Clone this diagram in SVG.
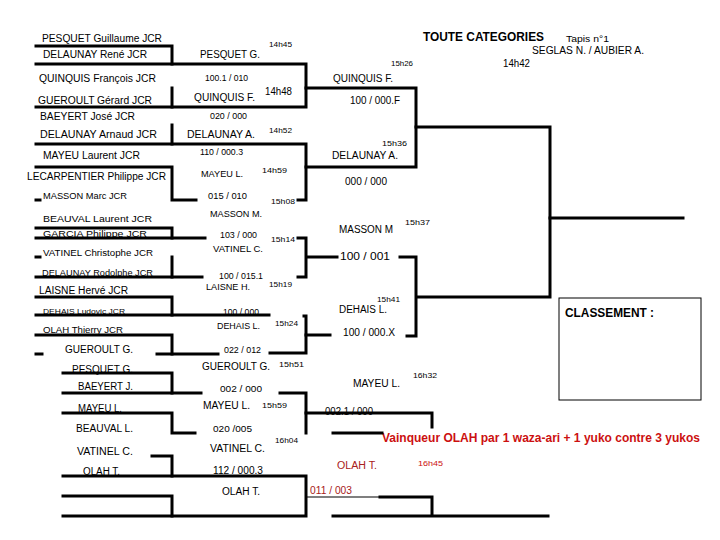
<svg xmlns="http://www.w3.org/2000/svg" width="720" height="540" viewBox="0 0 720 540">
<style>
text{font-family:"Liberation Sans",Arial,sans-serif;fill:#000;lengthAdjust:spacingAndGlyphs}
.n{font-size:10px}
.s{font-size:8.5px}
.t{font-size:8px}
.b{font-weight:bold}
.red{fill:#cc1010}
.dred{fill:#a82020}
.l{stroke:#000;stroke-width:3;fill:none;stroke-linecap:square;stroke-linejoin:miter}
.thin{stroke:#000;stroke-width:1.2;fill:none}
</style>
<rect width="720" height="540" fill="#fff"/>

<g id="header">
<text class="b" x="423" y="41" font-size="12.5" textLength="121" lengthAdjust="spacingAndGlyphs">TOUTE CATEGORIES</text>
<text x="566" y="42" font-size="9" textLength="43" lengthAdjust="spacingAndGlyphs">Tapis n°1</text>
<text x="532" y="54" font-size="10" textLength="112" lengthAdjust="spacingAndGlyphs">SEGLAS N. / AUBIER A.</text>
<text x="503" y="67" font-size="10" textLength="27" lengthAdjust="spacingAndGlyphs">14h42</text>
</g>

<g id="round1">
<g id="p-pesquet-guillaume"><text class="n" x="42" y="42" textLength="120" lengthAdjust="spacingAndGlyphs">PESQUET Guillaume JCR</text></g>
<g id="p-delaunay-rene"><text class="n" x="43" y="58" textLength="104" lengthAdjust="spacingAndGlyphs">DELAUNAY René JCR</text></g>
<g id="p-quinquis-francois"><text class="n" x="39" y="82" textLength="117" lengthAdjust="spacingAndGlyphs">QUINQUIS François JCR</text></g>
<g id="p-gueroult-gerard"><text class="n" x="38" y="104" textLength="114" lengthAdjust="spacingAndGlyphs">GUEROULT Gérard JCR</text></g>
<g id="p-baeyert-jose"><text class="n" x="40" y="120" textLength="95" lengthAdjust="spacingAndGlyphs">BAEYERT José JCR</text></g>
<g id="p-delaunay-arnaud"><text class="n" x="40" y="138" textLength="117" lengthAdjust="spacingAndGlyphs">DELAUNAY Arnaud JCR</text></g>
<g id="p-mayeu-laurent"><text class="n" x="43" y="159" textLength="97" lengthAdjust="spacingAndGlyphs">MAYEU Laurent JCR</text></g>
<g id="p-lecarpentier"><text class="n" x="27" y="180" textLength="139" lengthAdjust="spacingAndGlyphs">LECARPENTIER Philippe JCR</text></g>
<g id="p-masson-marc"><text class="s" x="43" y="199" textLength="84" lengthAdjust="spacingAndGlyphs">MASSON Marc JCR</text></g>
<g id="p-beauval-laurent"><text font-size="9.5" x="43" y="222" textLength="109" lengthAdjust="spacingAndGlyphs">BEAUVAL Laurent JCR</text></g>
<g id="p-garcia"><text font-size="9.5" x="43" y="237" textLength="104" lengthAdjust="spacingAndGlyphs">GARCIA Philippe JCR</text></g>
<g id="p-vatinel-christophe"><text class="s" x="43" y="256" textLength="110" lengthAdjust="spacingAndGlyphs">VATINEL Christophe JCR</text></g>
<g id="p-delaunay-rodolphe"><text class="s" x="42" y="276" textLength="111" lengthAdjust="spacingAndGlyphs">DELAUNAY Rodolphe JCR</text></g>
<g id="p-laisne-herve"><text class="n" x="39" y="294" textLength="89" lengthAdjust="spacingAndGlyphs">LAISNE Hervé JCR</text></g>
<g id="p-dehais-ludovic"><text class="t" x="43" y="314" textLength="82" lengthAdjust="spacingAndGlyphs">DEHAIS Ludovic JCR</text></g>
<g id="p-olah-thierry"><text class="s" x="43" y="333" textLength="80" lengthAdjust="spacingAndGlyphs">OLAH Thierry JCR</text></g>
<g id="r-gueroult"><text class="n" x="65" y="353" textLength="68" lengthAdjust="spacingAndGlyphs">GUEROULT G.</text></g>
<g id="r-pesquet"><text class="n" x="72" y="373" textLength="61" lengthAdjust="spacingAndGlyphs">PESQUET G.</text></g>
<g id="r-baeyert"><text class="n" x="78" y="390" textLength="55" lengthAdjust="spacingAndGlyphs">BAEYERT J.</text></g>
<g id="r-mayeu"><text class="n" x="78" y="412" textLength="44" lengthAdjust="spacingAndGlyphs">MAYEU L.</text></g>
<g id="r-beauval"><text class="n" x="76" y="432" textLength="57" lengthAdjust="spacingAndGlyphs">BEAUVAL L.</text></g>
<g id="r-vatinel"><text class="n" x="77" y="455" textLength="56" lengthAdjust="spacingAndGlyphs">VATINEL C.</text></g>
<g id="r-olah"><text class="n" x="83" y="475" textLength="37" lengthAdjust="spacingAndGlyphs">OLAH T.</text></g>
</g>

<g id="round2">
<g id="m1"><text class="t" x="269" y="47" textLength="23" lengthAdjust="spacingAndGlyphs">14h45</text>
<text class="n" x="200" y="58" textLength="60" lengthAdjust="spacingAndGlyphs">PESQUET G.</text>
<text class="s" x="205" y="81" textLength="43" lengthAdjust="spacingAndGlyphs">100.1 / 010</text></g>
<g id="m2"><text class="n" x="194" y="101" textLength="61" lengthAdjust="spacingAndGlyphs">QUINQUIS F.</text>
<text class="n" x="265" y="95" textLength="27" lengthAdjust="spacingAndGlyphs">14h48</text>
<text class="s" x="210" y="119" textLength="37" lengthAdjust="spacingAndGlyphs">020 / 000</text></g>
<g id="m3"><text class="n" x="187" y="138" textLength="68" lengthAdjust="spacingAndGlyphs">DELAUNAY A.</text>
<text class="t" x="269" y="133" textLength="23" lengthAdjust="spacingAndGlyphs">14h52</text>
<text class="s" x="200" y="155" textLength="43" lengthAdjust="spacingAndGlyphs">110 / 000.3</text></g>
<g id="m4"><text font-size="9" x="201" y="177" textLength="42" lengthAdjust="spacingAndGlyphs">MAYEU L.</text>
<text class="t" x="262" y="173" textLength="25" lengthAdjust="spacingAndGlyphs">14h59</text>
<text class="s" x="208" y="199" textLength="39" lengthAdjust="spacingAndGlyphs">015 / 010</text>
<text class="t" x="271" y="204" textLength="24" lengthAdjust="spacingAndGlyphs">15h08</text></g>
<g id="m5"><text font-size="9" x="210" y="217" textLength="52" lengthAdjust="spacingAndGlyphs">MASSON M.</text>
<text class="s" x="220" y="238" textLength="37" lengthAdjust="spacingAndGlyphs">103 / 000</text>
<text class="t" x="271" y="242" textLength="24" lengthAdjust="spacingAndGlyphs">15h14</text></g>
<g id="m6"><text font-size="9" x="213" y="252" textLength="50" lengthAdjust="spacingAndGlyphs">VATINEL C.</text>
<text class="s" x="219" y="279" textLength="44" lengthAdjust="spacingAndGlyphs">100 / 015.1</text></g>
<g id="m7"><text class="s" x="206" y="290" textLength="44" lengthAdjust="spacingAndGlyphs">LAISNE H.</text>
<text class="t" x="269" y="287" textLength="23" lengthAdjust="spacingAndGlyphs">15h19</text>
<text class="s" x="223" y="315" textLength="36" lengthAdjust="spacingAndGlyphs">100 / 000</text></g>
<g id="m8"><text class="s" x="217" y="329" textLength="43" lengthAdjust="spacingAndGlyphs">DEHAIS L.</text>
<text class="t" x="275" y="326" textLength="23" lengthAdjust="spacingAndGlyphs">15h24</text>
<text class="s" x="224" y="353" textLength="37" lengthAdjust="spacingAndGlyphs">022 / 012</text></g>
<g id="m9"><text class="n" x="202" y="370" textLength="68" lengthAdjust="spacingAndGlyphs">GUEROULT G.</text>
<text class="t" x="279" y="367" textLength="25" lengthAdjust="spacingAndGlyphs">15h51</text>
<text font-size="9.5" x="220" y="392" textLength="42" lengthAdjust="spacingAndGlyphs">002 / 000</text></g>
<g id="m10"><text class="n" x="203" y="409" textLength="47" lengthAdjust="spacingAndGlyphs">MAYEU L.</text>
<text class="t" x="262" y="408" textLength="25" lengthAdjust="spacingAndGlyphs">15h59</text>
<text font-size="9.5" x="213" y="432" textLength="39" lengthAdjust="spacingAndGlyphs">020 /005</text></g>
<g id="m11"><text class="n" x="210" y="452" textLength="55" lengthAdjust="spacingAndGlyphs">VATINEL C.</text>
<text class="t" x="275" y="443" textLength="23" lengthAdjust="spacingAndGlyphs">16h04</text>
<text class="n" x="213" y="474" textLength="50" lengthAdjust="spacingAndGlyphs">112 / 000.3</text></g>
<g id="m12"><text class="n" x="222" y="495" textLength="38" lengthAdjust="spacingAndGlyphs">OLAH T.</text></g>
</g>

<g id="round3">
<g id="q1"><text class="t" x="391" y="66" textLength="22" lengthAdjust="spacingAndGlyphs">15h26</text>
<text class="n" x="333" y="82" textLength="60" lengthAdjust="spacingAndGlyphs">QUINQUIS F.</text>
<text class="n" x="350" y="104" textLength="50" lengthAdjust="spacingAndGlyphs">100 / 000.F</text></g>
<g id="q2"><text class="t" x="382" y="146" textLength="25" lengthAdjust="spacingAndGlyphs">15h36</text>
<text class="n" x="332" y="159" textLength="66" lengthAdjust="spacingAndGlyphs">DELAUNAY A.</text>
<text class="n" x="345" y="185" textLength="42" lengthAdjust="spacingAndGlyphs">000 / 000</text></g>
<g id="q3"><text class="t" x="405" y="225" textLength="25" lengthAdjust="spacingAndGlyphs">15h37</text>
<text class="n" x="339" y="233" textLength="54" lengthAdjust="spacingAndGlyphs">MASSON M</text>
<text class="n" x="340" y="260" textLength="50" lengthAdjust="spacingAndGlyphs">100 / 001</text></g>
<g id="q4"><text class="t" x="377" y="302" textLength="23" lengthAdjust="spacingAndGlyphs">15h41</text>
<text class="n" x="339" y="313" textLength="48" lengthAdjust="spacingAndGlyphs">DEHAIS L.</text>
<text class="n" x="343" y="336" textLength="52" lengthAdjust="spacingAndGlyphs">100 / 000.X</text></g>
<g id="q5"><text class="t" x="413" y="378" textLength="24" lengthAdjust="spacingAndGlyphs">16h32</text>
<text class="n" x="353" y="387" textLength="47" lengthAdjust="spacingAndGlyphs">MAYEU L.</text>
<text class="n" x="325" y="415" textLength="48" lengthAdjust="spacingAndGlyphs">002.1 / 000</text></g>
<g id="final">
<text class="b red" x="382" y="442" font-size="12.5" textLength="318" lengthAdjust="spacingAndGlyphs">Vainqueur OLAH par 1 waza-ari + 1 yuko contre 3 yukos</text>
<text class="n dred" x="337" y="469" textLength="40" lengthAdjust="spacingAndGlyphs">OLAH T.</text>
<text class="t red" x="418" y="466" textLength="25" lengthAdjust="spacingAndGlyphs">16h45</text>
<text class="n dred" x="310" y="494" textLength="42" lengthAdjust="spacingAndGlyphs">011 / 003</text></g>
</g>

<g id="classement">
<rect x="559" y="298" width="142" height="102" fill="none" stroke="#000" stroke-width="1"/>
<text class="b" x="565" y="317" font-size="12" textLength="89" lengthAdjust="spacingAndGlyphs">CLASSEMENT :</text>
</g>

<g id="connectors">
<path class="l" d="M36,46H172V64"/>
<path class="l" d="M36,64H306V107H36"/>
<path class="l" d="M172,88V107"/>
<path class="l" d="M306,88H416V167H306"/>
<path class="l" d="M172,125V144"/>
<path class="l" d="M36,144H306V200H298"/>
<path class="l" d="M36,167H172V200H196"/>
<path class="l" d="M36,200H40"/>
<path class="l" d="M416,127H550V297H417"/>
<path class="l" d="M400,257H416V336H407"/>
<path class="l" d="M550,218H683"/>
<path class="l" d="M307,257H337"/>
<path class="l" d="M36,257H40"/>
<path class="l" d="M36,228H172V238"/>
<path class="l" d="M36,238H205"/>
<path class="l" d="M298,238H306V277H298"/>
<path class="l" d="M172,257V277"/>
<path class="l" d="M36,277H202"/>
<path class="l" d="M36,297H172V315"/>
<path class="l" d="M36,315H269"/>
<path class="l" d="M304,316H306V353H270"/>
<path class="l" d="M306,335H330"/>
<path class="l" d="M36,335H172V354"/>
<path class="l" d="M36,354H42"/>
<path class="l" d="M157,354H218"/>
<path class="l" d="M63,373H172V393"/>
<path class="l" d="M63,393H201"/>
<path class="l" d="M280,393H306V433"/>
<path class="l" d="M306,413H432V427"/>
<path class="l" d="M63,413H172V433H195"/>
<path class="l" d="M333,433H382"/>
<path class="l" d="M152,456H172V476"/>
<path class="l" d="M63,476H306V516H63"/>
<path class="l" d="M63,496H172V516"/>
<path class="l" d="M333,516H548"/>
<path class="l" d="M380,497H432V515"/>
<path class="thin" d="M307,497H380"/>
</g>
</svg>
